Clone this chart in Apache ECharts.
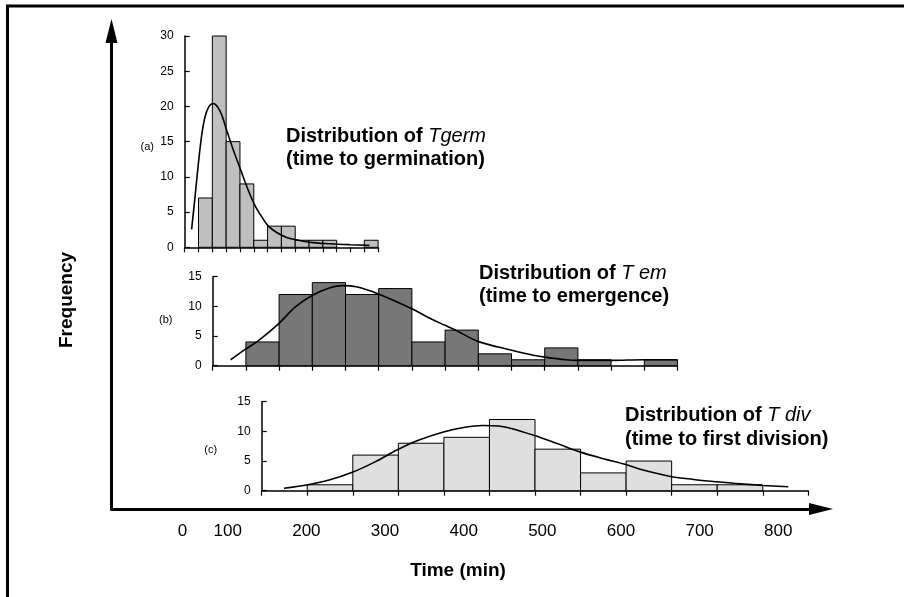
<!DOCTYPE html>
<html><head><meta charset="utf-8">
<script src="https://cdn.jsdelivr.net/npm/echarts@6/dist/echarts.min.js"></script>
<style>html,body{margin:0;padding:0;background:#fff}#c{width:904px;height:597px}</style>
</head><body><div id="c"></div>
<script>
// ---- data ----
const mainTickLabels = ['0','100','200','300','400','500','600','700','800'];
const binsA = [7,30,15,9,1,3,3,1,1,1,0,0,1];      // Tgerm, bins start at bin index 1
const binsB = [4,12,14,12,13,4,6,2,1,3,1,0,1];    // T em
const binsC = [1,6,8,9,12,7,3,5,1,1];             // T div
const curveA = [[0.5,2.55],[0.75,7.2],[0.99,11.9],[1.23,15.9],[1.47,18.5],[1.76,20.0],[2.07,20.4],[2.36,20.0],[2.68,18.8],[3.04,16.6],[3.52,13.8],[4.05,11.0],[4.54,8.4],[5.07,6.0],[5.57,4.35],[6.06,3.0],[6.66,2.1],[7.38,1.4],[8.1,1.05],[9.07,0.7],[10.52,0.5],[11.97,0.37],[13.37,0.28]];
const curveB = [[0.54,1.0],[0.99,2.8],[1.37,4.2],[1.99,7.1],[2.49,9.9],[2.98,11.8],[3.51,13.1],[3.92,13.5],[4.33,13.3],[4.99,12.1],[6.0,9.6],[6.57,7.9],[7.0,6.8],[7.28,6.1],[7.99,4.1],[9.01,2.6],[9.62,1.8],[10.0,1.45],[10.64,1.0],[11.0,0.9],[12.0,0.9],[12.98,1.0],[14.0,1.0]];
const curveC = [[0.49,0.4],[0.98,0.95],[1.48,1.8],[1.99,3.1],[2.5,4.9],[2.98,6.9],[3.44,8.5],[3.99,9.9],[4.46,10.7],[4.85,11.0],[5.2,10.9],[5.48,10.5],[5.99,9.3],[6.5,7.9],[7.0,6.5],[7.5,5.4],[8.0,4.4],[8.31,3.6],[9.0,2.36],[9.48,1.9],[10.0,1.5],[10.5,1.15],[11.0,0.88],[11.56,0.66]];

const FONT = 'Liberation Sans, Arial, Helvetica, sans-serif';
const chart = echarts.init(document.getElementById('c'), null, {renderer:'canvas'});

function barSeries(idx, bins, color){
  return {
    type:'custom', xAxisIndex:idx, yAxisIndex:idx, clip:false, z:2,
    data: bins.map((v,k)=>[k+1, v]),
    renderItem:function(params, api){
      const x = api.value(0), v = api.value(1);
      if (!v) return null;
      const p0 = api.coord([x, 0]), p1 = api.coord([x+1, v]);
      return {type:'rect', shape:{x:p0[0], y:p1[1], width:p1[0]-p0[0], height:p0[1]-p1[1]},
        style:{fill:color, stroke:'#000', lineWidth:1}};
    }
  };
}
function curveSeries(idx, pts){
  return {type:'line', xAxisIndex:idx, yAxisIndex:idx, data:pts, smooth:0.35, symbol:'none', z:5,
    lineStyle:{color:'#000', width:1.6}, silent:true};
}
function panelX(idx, max){
  return {gridIndex:idx, type:'value', min:0, max:max, interval:1,
    axisLine:{show:true, onZero:false, lineStyle:{color:'#000', width:1.5}},
    axisTick:{show:true, inside:false, length:5, lineStyle:{color:'#000', width:1.2}},
    axisLabel:{show:false}, splitLine:{show:false}};
}
function panelY(idx, max){
  return {gridIndex:idx, type:'value', min:0, max:max, interval:5,
    axisLine:{show:true, onZero:false, lineStyle:{color:'#000', width:1.5}},
    axisTick:{show:true, inside:true, length:5, lineStyle:{color:'#000', width:1.2}},
    axisLabel:{show:true, margin:11, fontSize:12, color:'#000', fontFamily:FONT},
    splitLine:{show:false}};
}
function title(x, y1, y2, roman, ital, line2){
  return [
    {type:'text', x:x, y:y1, style:{text:'{b|'+roman+'}{i|'+ital+'}', verticalAlign:'middle', align:'left',
      rich:{b:{fontSize:20, fontWeight:'bold', fontFamily:FONT, fill:'#000'},
            i:{fontSize:20, fontStyle:'italic', fontWeight:'normal', fontFamily:FONT, fill:'#000'}}}},
    {type:'text', x:x, y:y2, style:{text:line2, fontSize:20, fontWeight:'bold', fontFamily:FONT, fill:'#000', verticalAlign:'middle', align:'left'}}
  ];
}

const option = {
  animation:false,
  backgroundColor:'#fff',
  grid:[
    {left:111.5, top:31, right:83, bottom:88},
    {left:184.7, top:36, width:193.4, height:211.3},
    {left:212.7, top:276.7, width:464.8, height:89},
    {left:261.7, top:401.7, width:546.6, height:89}
  ],
  xAxis:[
    {gridIndex:0, type:'value', min:-47.73, max:854.3,
      axisLine:{show:true, onZero:false, symbol:['none','triangle'], symbolSize:[12,24], lineStyle:{color:'#000', width:3}},
      axisTick:{show:false}, splitLine:{show:false},
      axisLabel:{show:true, margin:14, fontSize:17, color:'#000', fontFamily:FONT,
        customValues: mainTickLabels.map(Number),
        formatter:function(v){ return v===0 ? '{z|0}' : String(v); },
        rich:{z:{fontSize:17, color:'#000', fontFamily:FONT, padding:[0,0,0,67]}}}},
    panelX(1,14), panelX(2,14), panelX(3,12)
  ],
  yAxis:[
    {gridIndex:0, type:'value', min:0, max:1,
      axisLine:{show:true, onZero:false, symbol:['none','triangle'], symbolSize:[12,24], lineStyle:{color:'#000', width:3}},
      axisTick:{show:false}, axisLabel:{show:false}, splitLine:{show:false}},
    panelY(1,30), panelY(2,15), panelY(3,15)
  ],
  series:[
    barSeries(1, binsA, '#bfbfbf'), curveSeries(1, curveA),
    barSeries(2, binsB, '#777777'), curveSeries(2, curveB),
    barSeries(3, binsC, '#dfdfdf'), curveSeries(3, curveC)
  ],
  graphic:[
    {type:'polyline', shape:{points:[[7.5,605],[7.5,6],[910,6]]}, style:{stroke:'#000', lineWidth:3, fill:null}},
    {type:'text', x:66.7, y:300, rotation:Math.PI/2, style:{text:'Frequency', fontSize:19, fontWeight:'bold', fontFamily:FONT, fill:'#000', align:'center', verticalAlign:'middle'}},
    {type:'text', x:458, y:571, style:{text:'Time (min)', fontSize:19, fontWeight:'bold', fontFamily:FONT, fill:'#000', align:'center', verticalAlign:'middle'}},
    {type:'text', x:147.2, y:147, style:{text:'(a)', fontSize:11, fontFamily:FONT, fill:'#000', align:'center', verticalAlign:'middle'}},
    {type:'text', x:165.7, y:320, style:{text:'(b)', fontSize:11, fontFamily:FONT, fill:'#000', align:'center', verticalAlign:'middle'}},
    {type:'text', x:210.7, y:450, style:{text:'(c)', fontSize:11, fontFamily:FONT, fill:'#000', align:'center', verticalAlign:'middle'}}
  ].concat(
    title(286, 136, 159, 'Distribution of ', 'Tgerm', '(time to germination)'),
    title(479, 273, 296, 'Distribution of ', 'T em', '(time to emergence)'),
    title(625, 415, 439, 'Distribution of ', 'T div', '(time to first division)')
  )
};
chart.setOption(option);
</script></body></html>
